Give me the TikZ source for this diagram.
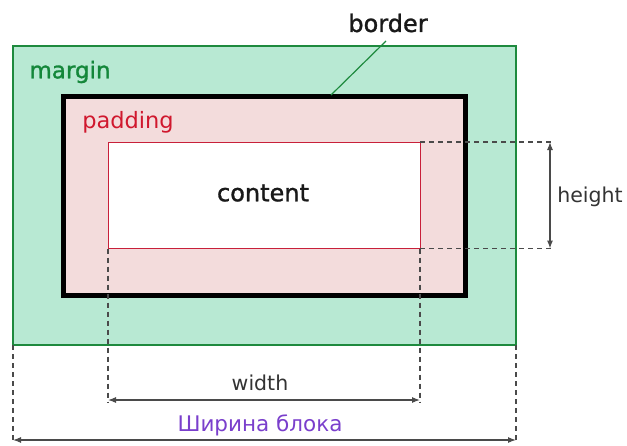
\documentclass[tikz,border=0pt]{standalone}
\usepackage{fontspec}
\setmainfont{DejaVu Sans}
\newfontfamily\semib[FakeBold=1.2]{DejaVu Sans}
\usetikzlibrary{arrows.meta}
\definecolor{mfill}{HTML}{B8E9D3}
\definecolor{mline}{HTML}{1E8A3E}
\definecolor{mtext}{HTML}{14873A}
\definecolor{pfill}{HTML}{F3DCDC}
\definecolor{ptext}{HTML}{D0182E}
\definecolor{cline}{HTML}{C8203A}
\definecolor{dim}{HTML}{4A4A4A}
\definecolor{purp}{HTML}{7A3FCC}
\tikzset{
  lbl/.style={inner sep=0pt, font=\semib\fontsize{23}{25}\selectfont},
  dimlbl/.style={inner sep=0pt, font=\fontsize{20.5}{22}\selectfont, text=black!80},
  guide/.style={draw=dim, line width=1.2pt, dash pattern=on 5pt off 4pt},
  dimarrow/.style={draw=dim, line width=1.1pt, {Latex[length=8pt,width=6pt]}-{Latex[length=8pt,width=6pt]}},
}
\begin{document}
\begin{tikzpicture}[x=1pt,y=-1pt]
\useasboundingbox (0,0) rectangle (627,445);
% margin box
\path[fill=mfill, draw=mline, line width=1.2pt] (13,46) rectangle (516,345);
% border box with padding
\path[fill=pfill, draw=black, line width=5pt] (63.5,96.5) rectangle (465.5,295.5);
% content box
\path[fill=white, draw=cline, line width=1pt] (108,142) rectangle (420,248.5);
% named coordinates
\coordinate (ctr) at (420,142);
\coordinate (cbr) at (420,248.5);
\coordinate (cbl) at (108,248.5);
\coordinate (hte) at (553,142);
\coordinate (hbe) at (553,248.5);
\coordinate (ha) at (550,142);
\coordinate (hb) at (550,248.5);
\coordinate (wl) at (108,403);
\coordinate (wr) at (420,403);
\coordinate (wal) at (108,400);
\coordinate (war) at (420,400);
\coordinate (ml) at (13,345);
\coordinate (mr) at (516,345);
\coordinate (bl) at (13,442);
\coordinate (br) at (516,442);
\coordinate (bal) at (13,440);
\coordinate (bar) at (516,440);
\coordinate (bline) at (331,95);
\coordinate (btop) at (386,41);
% labels
\node[lbl, text=mtext] (margin) at (70,72) {margin};
\node[lbl, text=ptext, font=\fontsize{22.5}{25}\selectfont] (padding) at (128,122) {padding};
\node[lbl, text=black!90, font=\semib\fontsize{24}{26}\selectfont] (content) at (263,193) {content};
\node[lbl, text=black!90, font=\semib\fontsize{24}{26}\selectfont] (border) at (388,23) {border};
\node[dimlbl] (height) at (590,197) {height};
\node[dimlbl] (width) at (260,383) {width};
\node[lbl, text=purp, font=\fontsize{21.5}{24}\selectfont] (block) at (260,425) {Ширина блока};
% border leader
\draw[mline, line width=1.2pt] (btop) -- (bline);
% guides
\draw[guide] (ctr) -- (hte);
\draw[guide] (cbr) -- (hbe);
\draw[guide] (cbl) -- (wl);
\draw[guide] (cbr) -- (wr);
\draw[guide] (ml) -- (bl);
\draw[guide] (mr) -- (br);
% dimension arrows
\draw[dimarrow] (ha) -- (hb);
\draw[dimarrow] (wal) -- (war);
\draw[dimarrow] (bal) -- (bar);
\end{tikzpicture}
\end{document}
